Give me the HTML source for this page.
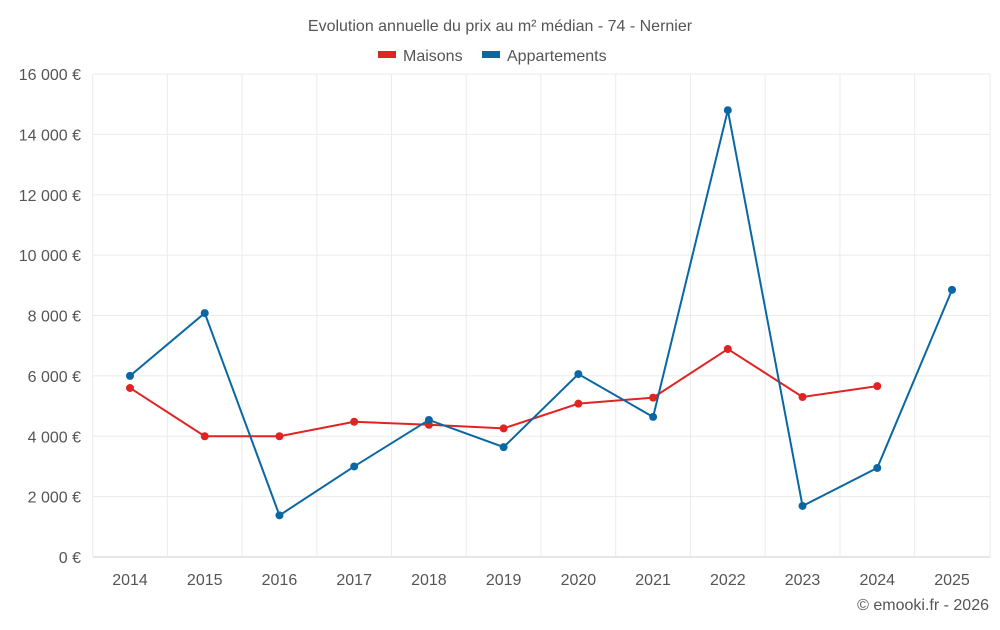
<!DOCTYPE html>
<html><head><meta charset="utf-8"><style>
body{margin:0;background:#fff;font-family:"Liberation Sans",sans-serif;}
svg text{font-family:"Liberation Sans",sans-serif;fill:#555;}
</style></head><body>
<svg id="chart" width="1000" height="625">
<text x="500" y="31" text-anchor="middle" font-size="16">Evolution annuelle du prix au m² médian - 74 - Nernier</text>
<g>
<rect x="378" y="51" width="18" height="7" fill="#e02424"/>
<text x="403" y="61" font-size="16">Maisons</text>
<rect x="482" y="51" width="18" height="7" fill="#0a67a3"/>
<text x="507" y="61" font-size="16">Appartements</text>
</g>
<g id="grid"></g><g id="axes"></g><g id="series"></g>
<text x="989" y="610" text-anchor="end" font-size="16">© emooki.fr - 2026</text>
</svg>
<script>
const years=[2014,2015,2016,2017,2018,2019,2020,2021,2022,2023,2024,2025];
const maisons=[5600,4000,4000,4480,4380,4260,5080,5280,6890,5300,5660,null];
const appartements=[6000,8080,1380,3000,4540,3640,6060,4640,14800,1690,2950,8850];
const yTicks=[0,2000,4000,6000,8000,10000,12000,14000,16000];
const yTickLabels=["0 €","2 000 €","4 000 €","6 000 €","8 000 €","10 000 €","12 000 €","14 000 €","16 000 €"];
const NS="http://www.w3.org/2000/svg";
const L=93,R=990,T=74,B=557;
const x0=130,step=(952-130)/11;
const xs=i=>x0+i*step;
const ys=v=>B-(v/16000)*(B-T);
function mk(t,a,p){const e=document.createElementNS(NS,t);for(const k in a)e.setAttribute(k,a[k]);p.appendChild(e);return e;}
const grid=document.getElementById('grid'),axes=document.getElementById('axes'),ser=document.getElementById('series');
yTicks.forEach((v,i)=>{
 const l=mk('line',{x1:L,x2:R,y1:ys(v),y2:ys(v),stroke:v===0?'#ccc':'#ebebeb'},grid);
 
 
 const t=mk('text',{x:81,y:ys(v)+6,'text-anchor':'end','font-size':16},axes);
 t.textContent=yTickLabels[i];
 
 
});
years.forEach((y,i)=>{
 const l=mk('line',{x1:xs(i)-step/2,x2:xs(i)-step/2,y1:T,y2:B,stroke:'#ebebeb'},grid);
 
 
 const t=mk('text',{x:xs(i),y:585,'text-anchor':'middle','font-size':16},axes);
 t.textContent=y;
 
 
});
const lr=mk('line',{x1:R,x2:R,y1:T,y2:B,stroke:'#ebebeb'},grid);


function draw(data,color,name){
 const g=mk('g',{},ser);
 
 
 const pts=[];data.forEach((v,i)=>{if(v!=null)pts.push(xs(i)+','+ys(v));});
 const p=mk('polyline',{points:pts.join(' '),fill:'none',stroke:color,'stroke-width':2},g);
 
 
 data.forEach((v,i)=>{if(v==null)return;
  const c=mk('circle',{cx:xs(i),cy:ys(v),r:4,fill:color},g);
  
  
 });
}
draw(maisons,'#e02424','maisons');
draw(appartements,'#0a67a3','appartements');
</script>
</body></html>
